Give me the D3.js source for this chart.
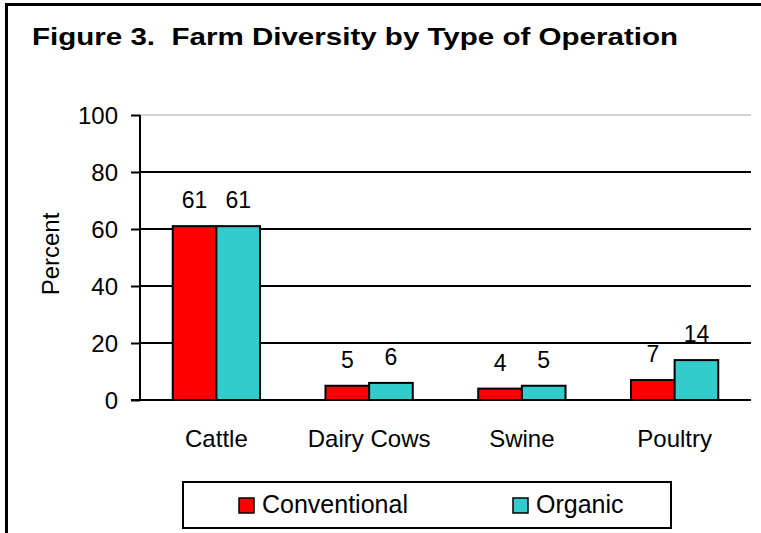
<!DOCTYPE html>
<html><head><meta charset="utf-8">
<script src="https://cdn.jsdelivr.net/npm/d3@7"></script>
<style>body{margin:0;background:#fff}svg{display:block}text{font-family:"Liberation Sans",Arial,sans-serif;fill:#000}</style>
</head><body><svg id="c" width="761" height="533"></svg>
<script>
const categories = ["Cattle", "Dairy Cows", "Swine", "Poultry"];
const seriesNames = ["Conventional", "Organic"];
const conventional = [61, 5, 4, 7];
const organic = [61, 6, 5, 14];
const yTicks = [0, 20, 40, 60, 80, 100];
const title = "Figure 3.  Farm Diversity by Type of Operation";
const colors = ["#FF0000", "#33CCCC"];

const svg = d3.select("#c");
svg.append("rect").attr("x", 6.5).attr("y", 4.5).attr("width", 800).attr("height", 600)
  .attr("fill", "none").attr("stroke", "#000").attr("stroke-width", 3);

svg.append("text").attr("x", 355).attr("y", 45).attr("text-anchor", "middle")
  .attr("font-size", 24).attr("font-weight", "bold").attr("xml:space", "preserve")
  .style("white-space", "pre")
  .attr("textLength", 646).attr("lengthAdjust", "spacingAndGlyphs").text(title);

const x0 = 140, x1 = 751;
const x = d3.scaleBand().domain(categories).range([x0, x1]);
const inner = d3.scaleBand().domain(seriesNames).range([0, x.bandwidth()]).paddingInner(0).paddingOuter(0.75);
const y = d3.scaleLinear().domain([0, 100]).range([400, 115]);

// gridlines
svg.append("g").selectAll("line").data(yTicks.filter(d => d > 0)).join("line")
  .attr("x1", x0).attr("x2", x1).attr("y1", d => y(d)).attr("y2", d => y(d))
  .attr("stroke", d => d === 100 ? "#d4d4d4" : "#000").attr("stroke-width", 2);

// y axis
const yAxis = d3.axisLeft(y).tickValues(yTicks).tickSize(9).tickPadding(13);
const ga = svg.append("g").attr("transform", `translate(${x0},0)`).call(yAxis);
ga.select(".domain").attr("stroke", "#000").attr("stroke-width", 2).attr("d", `M0,${y(0)}V${y(100)}`);
ga.selectAll(".tick line").attr("stroke", "#000").attr("stroke-width", 2);
ga.selectAll(".tick text").attr("font-size", 24).attr("font-family", "Liberation Sans, Arial, sans-serif").attr("fill", "#000").attr("dy", "0.36em");

svg.append("text").attr("transform", `translate(59,254) rotate(-90)`).attr("text-anchor", "middle")
  .attr("font-size", 24).text("Percent");

const data = categories.map((c, i) => ({cat: c, vals: [conventional[i], organic[i]]}));
const groups = svg.append("g").selectAll("g").data(data).join("g")
  .attr("transform", d => `translate(${x(d.cat)},0)`);
groups.selectAll("rect").data(d => d.vals.map((v, j) => ({v, s: seriesNames[j], j}))).join("rect")
  .attr("x", d => inner(d.s)).attr("width", inner.bandwidth())
  .attr("y", d => y(d.v)).attr("height", d => y(0) - y(d.v))
  .attr("fill", d => colors[d.j]).attr("stroke", "#000").attr("stroke-width", 2);
groups.selectAll("text").data(d => d.vals.map((v, j) => ({v, s: seriesNames[j]}))).join("text")
  .attr("x", d => inner(d.s) + inner.bandwidth() / 2).attr("y", d => y(d.v) - 18)
  .attr("text-anchor", "middle").attr("font-size", 23).text(d => d.v);

// baseline
svg.append("line").attr("x1", x0 - 9).attr("x2", x1).attr("y1", y(0)).attr("y2", y(0))
  .attr("stroke", "#000").attr("stroke-width", 2);

// category labels
const xAxis = d3.axisBottom(x).tickSize(0).tickPadding(0);
const gx = svg.append("g").attr("transform", `translate(0,${y(0)})`).call(xAxis);
gx.select(".domain").remove();
gx.selectAll(".tick text").attr("font-size", 24).attr("font-family", "Liberation Sans, Arial, sans-serif")
  .attr("fill", "#000").attr("dy", 0).attr("y", 47);

// legend
const lg = svg.append("g");
lg.append("rect").attr("x", 183).attr("y", 482).attr("width", 488).attr("height", 46)
  .attr("fill", "#fff").attr("stroke", "#000").attr("stroke-width", 2);
const legX = [239, 513];
seriesNames.forEach((s, i) => {
  lg.append("rect").attr("x", legX[i]).attr("y", 498).attr("width", 15).attr("height", 15)
    .attr("fill", colors[i]).attr("stroke", "#000").attr("stroke-width", 1.5);
  lg.append("text").attr("x", legX[i] + 23).attr("y", 513).attr("font-size", 25).text(s);
});
</script></body></html>
